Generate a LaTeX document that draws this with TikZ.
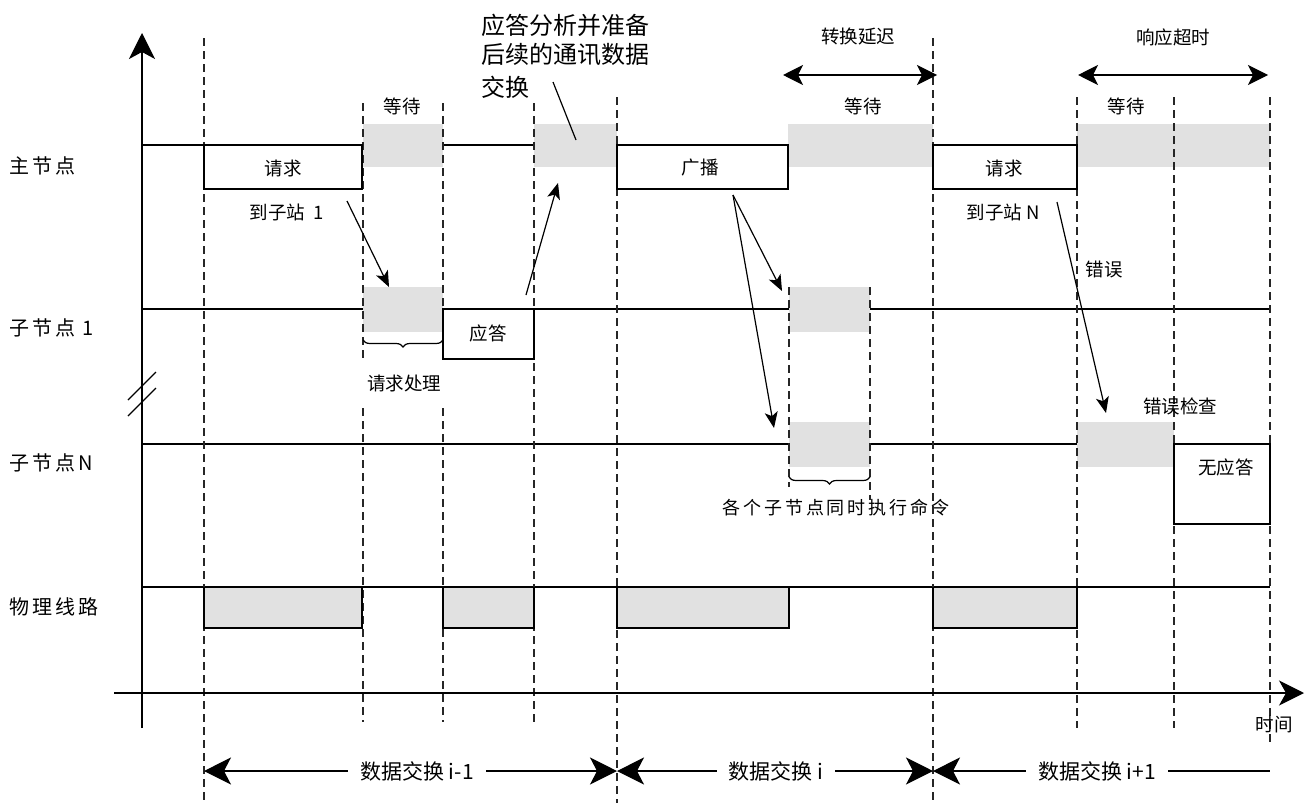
\documentclass[tikz,border=0pt]{standalone}
\usepackage{fontspec}
\setmainfont{Noto Sans CJK SC}
\newfontfamily\cjkwide[LetterSpace=15]{Noto Sans CJK SC}
\newfontfamily\cjkwider[LetterSpace=16]{Noto Sans CJK SC}
\usetikzlibrary{arrows.meta,decorations.pathreplacing}
\definecolor{boxgray}{RGB}{225,225,225}
\begin{document}
\begin{tikzpicture}[x=1pt,y=-1pt,
  ln/.style={line width=1.3pt,black},
  bx/.style={line width=1.5pt,black},
  dsh/.style={line width=1.2pt,black!85,dash pattern=on 8pt off 5pt},
  midtip/.style={{Stealth[length=20pt,width=20pt,inset=5pt]}-{Stealth[length=20pt,width=20pt,inset=5pt]}},
  smalltip/.style={line width=1.2pt,-{Stealth[length=16pt,width=13pt,inset=4pt]}},
  lab/.style={inner sep=0pt,font=\fontsize{18.5}{22}\selectfont},
  side/.style={inner sep=0pt,anchor=west,font=\cjkwide\fontsize{20}{24}\selectfont},
  big/.style={inner sep=0pt,anchor=west,font=\fontsize{24}{28}\selectfont},
  exch/.style={inner sep=0pt,inner xsep=12pt,fill=white,font=\fontsize{21}{25}\selectfont},
  brc/.style={line width=1.2pt,decorate,decoration={brace,amplitude=7pt}}
]
\useasboundingbox (0,0) rectangle (1311,803);

% gray fills (behind lines)
\fill[boxgray] (363,124) rectangle (443,167);
\fill[boxgray] (534,124) rectangle (617,167);
\fill[boxgray] (788,124) rectangle (933,167);
\fill[boxgray] (1077,124) rectangle (1270,167);
\fill[boxgray] (204,587) rectangle (362,628);
\fill[boxgray] (443,587) rectangle (534,628);
\fill[boxgray] (617,587) rectangle (789,628);
\fill[boxgray] (933,587) rectangle (1077,628);

% timelines
\draw[ln] (142,145) -- (204,145);
\draw[ln] (443,145) -- (534,145);
\draw[ln] (142,309) -- (363,309);
\draw[ln] (443,309) -- (789,309);
\draw[ln] (870,309) -- (1270,309);
\draw[ln] (142,444) -- (789,444);
\draw[ln] (870,444) -- (1077,444);
\draw[ln] (142,587) -- (1270,587);

% gray fills over lines
\fill[boxgray] (363,287) rectangle (443,332);
\fill[boxgray] (789,287) rectangle (870,332);
\fill[boxgray] (789,422) rectangle (870,467);
\fill[boxgray] (1077,422) rectangle (1174,467);

% dashed time markers
\draw[dsh] (204,38) -- (204,803);
\draw[dsh] (363,103) -- (363,360);
\draw[dsh] (363,408) -- (363,722);
\draw[dsh] (443,103) -- (443,360);
\draw[dsh] (443,408) -- (443,722);
\draw[dsh] (534,103) -- (534,722);
\draw[dsh] (617,97) -- (617,803);
\draw[dsh] (789,287) -- (789,487);
\draw[dsh] (870,287) -- (870,500);
\draw[dsh] (933,38) -- (933,803);
\draw[dsh] (1077,97) -- (1077,728);
\draw[dsh] (1174,97) -- (1174,728);
\draw[dsh] (1270,97) -- (1270,742);

% boxes
\draw[bx] (204,145) rectangle (362,189);
\draw[bx] (617,145) rectangle (788,189);
\draw[bx] (933,145) rectangle (1077,189);
\draw[bx] (443,309) rectangle (534,359);
\draw[bx] (1174,444) rectangle (1270,524);
\draw[bx] (204,587) -- (204,628) -- (362,628) -- (362,587);
\draw[bx] (443,587) -- (443,628) -- (534,628) -- (534,587);
\draw[bx] (617,587) -- (617,628) -- (789,628) -- (789,587);
\draw[bx] (933,587) -- (933,628) -- (1077,628) -- (1077,587);

% axes
\draw[ln,-{Stealth[length=26pt,width=26pt,inset=7pt]}] (142,728) -- (142,33);
\draw[ln,-{Stealth[length=25pt,width=25pt,inset=7pt]}] (114,693) -- (1304,693);
\draw[line width=1.1pt] (128,400) -- (156,372);
\draw[line width=1.1pt] (128,416) -- (156,388);

% braces
\draw[brc] (443,340) -- (363,340);
\draw[brc] (870,477) -- (789,477);

% side labels
\node[side] (lmain) at (9,166) {主节点};
\node[side] (lsub1) at (9,328) {子节点 1};
\node[side] (lsubN) at (9,463) {子节点N};
\node[side] (lphys) at (9,607) {物理线路};

% labels
\node[lab] (req1) at (283,168) {请求};
\node[lab] (to1) at (287,212) {到子站\ \ 1};
\node[lab] (wait1) at (402,106) {等待};
\node[lab] (ans) at (488,333) {应答};
\node[lab] (proc) at (404,383) {请求处理};
\node[big] (ana1) at (481,25) {应答分析并准备};
\node[big] (ana2) at (481,55) {后续的通讯数据};
\node[big] (ana3) at (481,87) {交换};
\node[lab] (bc) at (700,168) {广播};
\node[lab] (conv) at (858,37) {转换延迟};
\node[lab] (wait2) at (863,106) {等待};
\node[lab] (req2) at (1004,168) {请求};
\node[lab] (toN) at (1003,212) {到子站 N};
\node[lab] (resp) at (1173,37) {响应超时};
\node[lab] (wait3) at (1126,106) {等待};
\node[lab] (err) at (1104,269) {错误};
\node[lab] (errc) at (1180,406) {错误检查};
\node[lab] (noans) at (1226,467) {无应答};
\node[inner sep=0pt,font=\cjkwider\fontsize{18}{22}\selectfont] (exec) at (836,508) {各个子节点同时执行命令};
\node[lab] (time) at (1274,725) {时间};

% top double arrows
\coordinate (c1a) at (783,75); \coordinate (c1b) at (937,75);
\coordinate (c2a) at (1078,75); \coordinate (c2b) at (1268,75);
\draw[ln,midtip] (c1a) -- (c1b);
\draw[ln,midtip] (c2a) -- (c2b);

% message arrows
\coordinate (m1s) at (347,201); \coordinate (m1e) at (389,287);
\coordinate (m2s) at (526,295); \coordinate (m2e) at (558,183);
\coordinate (m3s) at (553,82);  \coordinate (m3e) at (576,140);
\coordinate (b0) at (733,195);
\coordinate (b1) at (782,291); \coordinate (b2) at (774,428);
\coordinate (m4s) at (1057,202); \coordinate (m4e) at (1106,413);
\draw[smalltip] (m1s) -- (m1e);
\draw[smalltip] (m2s) -- (m2e);
\draw[line width=1.2pt] (m3s) -- (m3e);
\draw[smalltip] (b0) -- (b1);
\draw[smalltip] (b0) -- (b2);
\draw[smalltip] (m4s) -- (m4e);

% data exchange arrows
\coordinate (e0) at (204,771); \coordinate (e1) at (617,771);
\coordinate (e2) at (933,771); \coordinate (e3) at (1270,771);
\draw[ln,{Stealth[length=27pt,width=27pt,inset=7pt]}-{Stealth[length=27pt,width=27pt,inset=7pt]}] (e0) -- (e1);
\draw[ln,{Stealth[length=27pt,width=27pt,inset=7pt]}-{Stealth[length=27pt,width=27pt,inset=7pt]}] (e1) -- (e2);
\draw[ln,{Stealth[length=27pt,width=27pt,inset=7pt]}-] (e2) -- (e3);
\node[exch] (x1) at (417,771) {数据交换 i-1};
\node[exch] (x2) at (776,771) {数据交换 i};
\node[exch] (x3) at (1097,771) {数据交换 i+1};
\end{tikzpicture}
\end{document}
